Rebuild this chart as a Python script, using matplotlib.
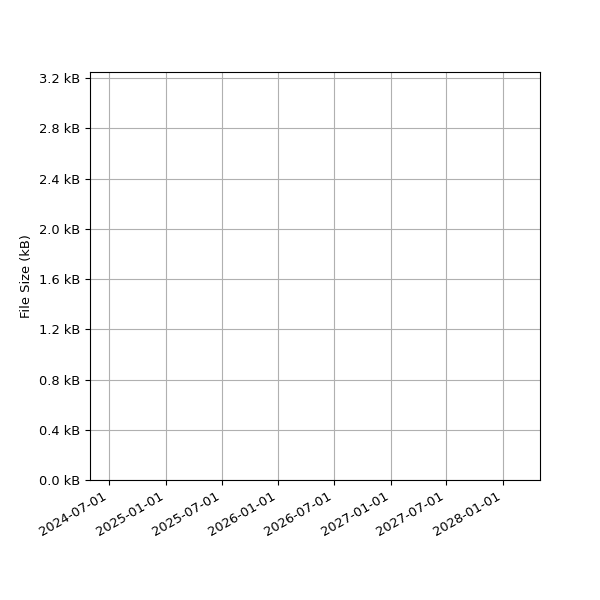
import matplotlib
matplotlib.use("Agg")
import matplotlib.pyplot as plt
import matplotlib.dates as mdates
import matplotlib.ticker as mticker
import numpy as np

plt.rcParams["font.size"] = 9.4

# no data points are drawn in the reference, only the empty axes
dates = np.array([], dtype="datetime64[D]")
sizes_kb = np.array([], dtype=float)

x_start = np.datetime64("2024-04-30")
x_end = np.datetime64("2028-04-30")
y_max = 3.25

fig, ax = plt.subplots(figsize=(6, 6), dpi=100)
ax.plot(dates, sizes_kb, marker="o")

ax.set_xlim(x_start, x_end)
ax.set_ylim(0, y_max)
ax.xaxis.set_major_locator(mdates.MonthLocator(bymonth=[1, 7]))
ax.xaxis.set_major_formatter(mdates.DateFormatter("%Y-%m-%d"))
ax.yaxis.set_major_locator(mticker.MultipleLocator(0.4))
ax.yaxis.set_major_formatter(mticker.StrMethodFormatter("{x:.1f} kB"))
ax.set_ylabel("File Size (kB)")
ax.grid(True)

fig.autofmt_xdate()
fig.subplots_adjust(left=0.15, right=0.9, bottom=0.2, top=0.88)
fig.savefig("out.png")
